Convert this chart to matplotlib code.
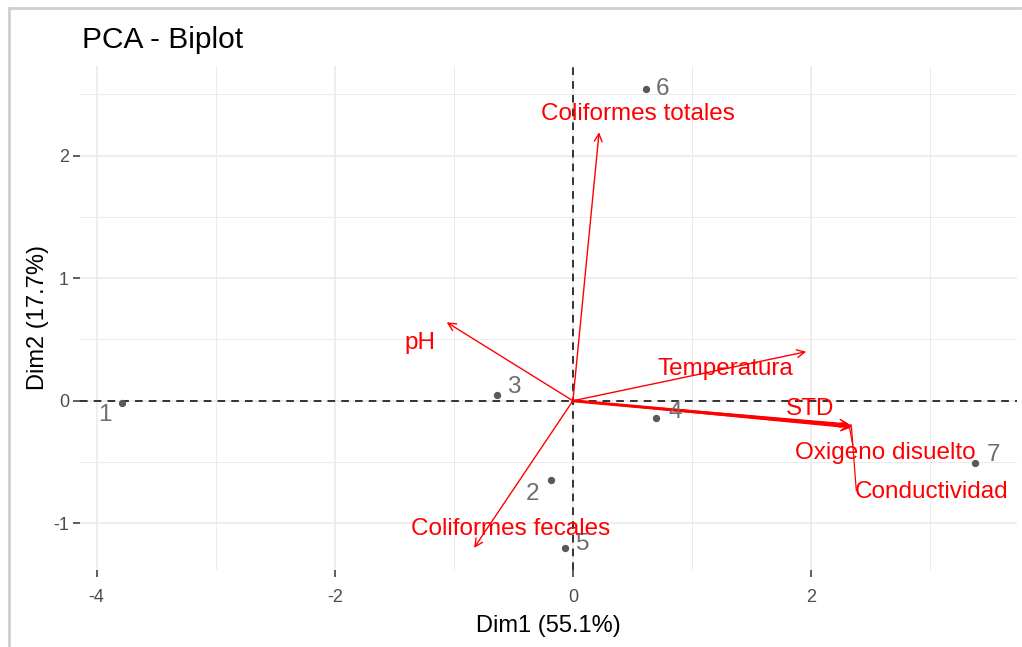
import matplotlib
matplotlib.use("Agg")
import matplotlib.pyplot as plt
from matplotlib.lines import Line2D
import numpy as np

plt.rcParams['font.family'] = ['Liberation Sans', 'DejaVu Sans']
plt.rcParams['axes.unicode_minus'] = False

# Individuals (scores)
ind_labels = ["1", "2", "3", "4", "5", "6", "7"]
ind_x = [-3.79, -0.18, -0.64, 0.70, -0.07, 0.61, 3.38]
ind_y = [-0.02, -0.65, 0.05, -0.14, -1.20, 2.54, -0.51]
ind_lab_x = [-3.93, -0.34, -0.50, 0.86, 0.08, 0.75, 3.53]
ind_lab_y = [-0.12, -0.76, 0.11, -0.09, -1.17, 2.54, -0.44]

# Variables (loadings, scaled)
var_labels = ["Coliformes totales", "pH", "Temperatura", "STD",
              "Oxigeno disuelto", "Conductividad", "Coliformes fecales"]
var_x = [0.22, -1.06, 1.96, 2.32, 2.34, 2.33, -0.83]
var_y = [2.19, 0.64, 0.40, -0.19, -0.21, -0.22, -1.20]
var_lab_x = [0.55, -1.285, 1.28, 1.99, 2.62, 3.01, -0.52]
var_lab_y = [2.335, 0.473, 0.26, -0.07, -0.424, -0.743, -1.045]

xticks = [-4, -2, 0, 2]
yticks = [-1, 0, 1, 2]
xlim = (-4.14, 3.73)
ylim = (-1.38, 2.73)

W, H = 1022, 647
fig = plt.figure(figsize=(W / 100, H / 100), dpi=100)
ax = fig.add_axes([80 / W, (H - 570) / H, (1017 - 80) / W, (570 - 66) / H])

ax.set_xlim(*xlim)
ax.set_ylim(*ylim)
ax.set_xticks(xticks)
ax.set_yticks(yticks)
ax.set_xticks([-3, -1, 1, 3], minor=True)
ax.set_yticks([-0.5, 0.5, 1.5, 2.5], minor=True)
ax.grid(True, which='major', color='#EBEBEB', lw=1.2)
ax.grid(True, which='minor', color='#EBEBEB', lw=0.7)
ax.tick_params(which='minor', length=0)
ax.tick_params(which='major', length=5, width=1.1, color='#333333',
               labelcolor='#4D4D4D', labelsize=13, pad=3)
ax.tick_params(axis='x', which='major', pad=9)
for s in ax.spines.values():
    s.set_visible(False)
ax.set_axisbelow(True)

ax.axhline(0, color='black', lw=1.1, ls=(0, (5, 4)), zorder=1)
ax.axvline(0, color='black', lw=1.1, ls=(0, (5, 4)), zorder=1)

# points
ax.scatter(ind_x, ind_y, s=28, color='#595959', zorder=3, linewidths=0)
for lx, ly, t in zip(ind_lab_x, ind_lab_y, ind_labels):
    ax.text(lx, ly, t, color='#6E6E6E', fontsize=17.5, ha='center', va='center', zorder=4)

# arrows
for vx, vy in zip(var_x, var_y):
    ax.annotate("", xy=(vx, vy), xytext=(0, 0),
                arrowprops=dict(arrowstyle='->', color='red', lw=1.0,
                                mutation_scale=14, shrinkA=0, shrinkB=0),
                zorder=2)
# thicker overlap for STD group
ax.plot([0, 2.33], [0, -0.205], color='red', lw=2.2, zorder=2)

# repel segments
ax.plot([2.32, 2.35], [-0.20, -0.36], color='red', lw=0.9, zorder=2)
ax.plot([2.34, 2.38], [-0.22, -0.73], color='red', lw=0.9, zorder=2)

for lx, ly, t in zip(var_lab_x, var_lab_y, var_labels):
    ax.text(lx, ly, t, color='red', fontsize=17.5, ha='center', va='center', zorder=5)

ax.set_xlabel("Dim1 (55.1%)", fontsize=17, color='black', labelpad=6)
ax.set_ylabel("Dim2 (17.7%)", fontsize=17, color='black', labelpad=3)

fig.text(82 / W, 1 - 40 / H, "PCA - Biplot", fontsize=21.5, color='black',
         ha='left', va='center')

# screenshot border (left and top)
fig.add_artist(Line2D([9 / W, 9 / W], [0, 1 - 8 / H], color='#CFCFCF', lw=2,
                      transform=fig.transFigure))
fig.add_artist(Line2D([9 / W, 1020 / W], [1 - 8 / H, 1 - 8 / H], color='#CFCFCF', lw=2,
                      transform=fig.transFigure))

fig.savefig("out.png", dpi=100)
